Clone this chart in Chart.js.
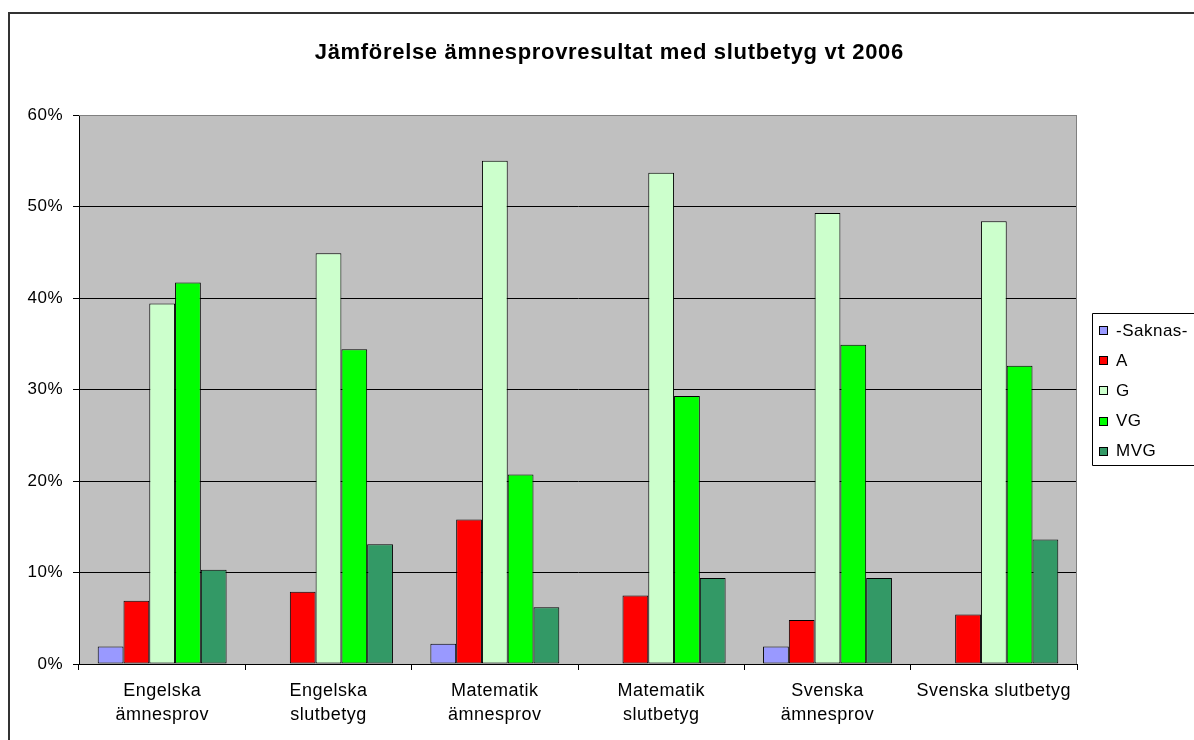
<!DOCTYPE html>
<html>
<head>
<meta charset="utf-8">
<script src="https://cdn.jsdelivr.net/npm/chart.js@4/dist/chart.umd.min.js"></script>
<style>
html,body{margin:0;padding:0;background:#fff;}
#wrap{width:1194px;height:740px;position:relative;}
</style>
</head>
<body>
<div id="wrap"><canvas id="c" width="1194" height="740"></canvas></div>
<script>
const title = "Jämförelse ämnesprovresultat med slutbetyg vt 2006";
const categories = [
  ["Engelska","ämnesprov"],
  ["Engelska","slutbetyg"],
  ["Matematik","ämnesprov"],
  ["Matematik","slutbetyg"],
  ["Svenska","ämnesprov"],
  "Svenska slutbetyg"
];
const seriesNames = ["-Saknas-","A","G","VG","MVG"];
const saknas = [1.9, null, 2.2, null, 1.9, null];
const gradeA = [6.9, 7.9, 15.8, 7.5, 4.8, 5.4];
const gradeG = [39.4, 44.9, 55.0, 53.7, 49.3, 48.4];
const gradeVG = [41.7, 34.4, 20.7, 29.3, 34.9, 32.6];
const gradeMVG = [10.3, 13.1, 6.2, 9.4, 9.4, 13.6];
const yTicks = [0, 10, 20, 30, 40, 50, 60];

const colors = ["#9999FF","#FF0000","#CCFFCC","#00FF00","#339966"];
const seriesValues = [saknas, gradeA, gradeG, gradeVG, gradeMVG];

const FONT = "Arial, 'Liberation Sans', sans-serif";
const SPACING = '0.5px';

function setSpacing(chart){ try{ chart.ctx.letterSpacing = SPACING; }catch(e){} }

const framePlugin = {
  id: 'frame',
  beforeLayout(chart){ setSpacing(chart); },
  beforeDraw(chart){
    setSpacing(chart);
    const ctx = chart.ctx, a = chart.chartArea;
    ctx.save();
    ctx.fillStyle = '#C0C0C0';
    ctx.fillRect(a.left, a.top, a.right - a.left, a.bottom - a.top);
    ctx.restore();
  },
  afterDraw(chart){
    const ctx = chart.ctx, a = chart.chartArea;
    ctx.save();
    // plot border (gray)
    ctx.strokeStyle = '#808080';
    ctx.lineWidth = 1;
    ctx.beginPath();
    ctx.moveTo(a.left, a.top + 0.5); ctx.lineTo(a.right, a.top + 0.5);
    ctx.moveTo(a.right - 0.5, a.top); ctx.lineTo(a.right - 0.5, a.bottom);
    ctx.stroke();
    // outer frame
    ctx.strokeStyle = '#333333';
    ctx.lineWidth = 2;
    ctx.beginPath();
    ctx.moveTo(9, 760); ctx.lineTo(9, 13); ctx.lineTo(1200, 13);
    ctx.stroke();
    // title
    ctx.font = "bold 22px " + FONT;
    try{ ctx.letterSpacing = '0px'; }catch(e){}
    const w0 = ctx.measureText(title).width;
    const sp = Math.max(0, (589 - w0) / title.length);
    try{ ctx.letterSpacing = sp.toFixed(2) + 'px'; }catch(e){}
    ctx.fillStyle = '#000';
    ctx.textAlign = 'center';
    ctx.textBaseline = 'middle';
    ctx.fillText(title, 609 + sp / 2, 53);
    // legend
    try{ ctx.letterSpacing = '0.5px'; }catch(e){}
    const lx = 1092.5, ly = 313.5, lh = 152;
    ctx.strokeStyle = '#000';
    ctx.lineWidth = 1;
    ctx.beginPath();
    ctx.moveTo(1200, ly); ctx.lineTo(lx, ly); ctx.lineTo(lx, ly + lh); ctx.lineTo(1200, ly + lh);
    ctx.stroke();
    ctx.font = "17px " + FONT;
    ctx.textBaseline = 'middle';
    ctx.textAlign = 'left';
    chart.data.datasets.forEach((ds, i) => {
      const cy = 330 + i * 30.2;
      ctx.fillStyle = ds.backgroundColor;
      ctx.fillRect(1099, Math.round(cy) - 4, 9, 9);
      ctx.strokeStyle = '#000';
      ctx.strokeRect(1099.5, Math.round(cy) - 3.5, 8, 8);
      ctx.fillStyle = '#000';
      ctx.fillText(ds.label, 1116, cy + 1);
    });
    ctx.restore();
  }
};

new Chart(document.getElementById('c'), {
  type: 'bar',
  data: {
    labels: categories,
    datasets: seriesNames.map((n, i) => ({
      label: n,
      data: seriesValues[i],
      backgroundColor: colors[i],
      borderColor: '#000',
      borderWidth: 1,
      borderSkipped: false,
      categoryPercentage: 0.775,
      barPercentage: 1.0
    }))
  },
  options: {
    responsive: false,
    animation: false,
    devicePixelRatio: 1,
    layout: { padding: { top: 115, left: 0, right: 117, bottom: 0 } },
    plugins: {
      legend: { display: false },
      tooltip: { enabled: false },
      title: { display: false }
    },
    scales: {
      x: {
        offset: true,
        grid: { offset: true, drawOnChartArea: false, color: '#000', tickLength: 6, tickColor: '#000' },
        border: { display: true, color: '#000', width: 1 },
        ticks: { color: '#000', padding: 9, font: { family: FONT, size: 18, lineHeight: 1.34 }, maxRotation: 0, autoSkip: false },
        afterFit(scale){ scale.height = 76; }
      },
      y: {
        min: 0, max: 60,
        afterBuildTicks(scale){ scale.ticks = yTicks.map(v => ({ value: v })); },
        grid: { color: '#000', lineWidth: 1, tickLength: 6, tickColor: '#000', drawTicks: true },
        border: { display: true, color: '#000', width: 1 },
        ticks: { color: '#000', padding: 10, font: { family: FONT, size: 17 }, callback: v => v + '%' },
        afterFit(scale){ scale.width = 79; }
      }
    }
  },
  plugins: [framePlugin]
});
</script>
</body>
</html>
